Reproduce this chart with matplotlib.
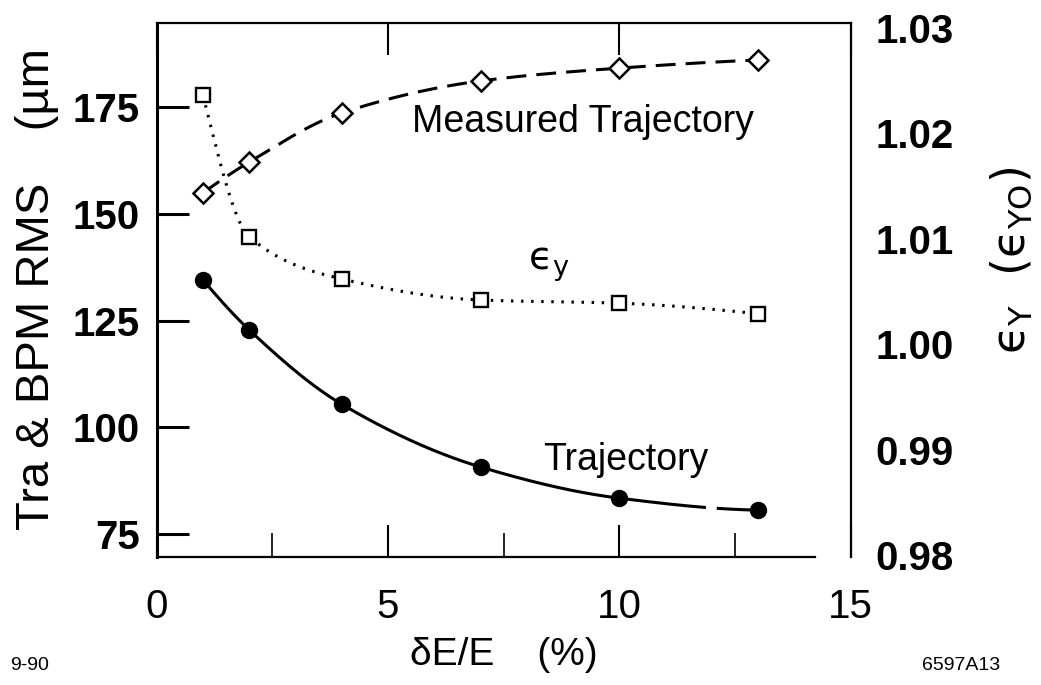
import numpy as np
import matplotlib
matplotlib.use("Agg")
import matplotlib.pyplot as plt
from matplotlib import font_manager
from matplotlib.ticker import FixedLocator, NullFormatter

# energy spread (%)
dE = [1, 2, 4, 7, 10, 13]
# BPM rms of the measured trajectory (um)
measured_rms = [154.9, 162.1, 173.6, 181.1, 184.1, 186.0]
# rms of the trajectory (um)
trajectory_rms = [134.5, 122.8, 105.4, 90.7, 83.4, 80.6]
# emittance growth eps_y / eps_y0
eps_ratio = [1.0236, 1.0102, 1.0062, 1.0042, 1.0039, 1.0029]

left_ticks = [75, 100, 125, 150, 175]
right_ticks = [0.98, 0.99, 1.00, 1.01, 1.02, 1.03]
right_labels = ["0.98", "0.99", "1.00", "1.01", "1.02", "1.03"]
x_ticks = [0, 5, 10, 15]
x_minor = [2.5, 7.5, 12.5]


def pchip(x, y, xs):
    """Monotone cubic through (x, y), evaluated at xs."""
    x = np.asarray(x, float)
    y = np.asarray(y, float)
    h = np.diff(x)
    delta = np.diff(y) / h
    n = len(x)
    d = np.zeros(n)
    for k in range(1, n - 1):
        if delta[k - 1] * delta[k] > 0:
            w1 = 2 * h[k] + h[k - 1]
            w2 = h[k] + 2 * h[k - 1]
            d[k] = (w1 + w2) / (w1 / delta[k - 1] + w2 / delta[k])

    def end(h0, h1, d0, d1):
        s = ((2 * h0 + h1) * d0 - h0 * d1) / (h0 + h1)
        if np.sign(s) != np.sign(d0):
            s = 0.0
        elif np.sign(d0) != np.sign(d1) and abs(s) > abs(3 * d0):
            s = 3 * d0
        return s

    d[0] = end(h[0], h[1], delta[0], delta[1])
    d[-1] = end(h[-1], h[-2], delta[-1], delta[-2])
    idx = np.clip(np.searchsorted(x, xs) - 1, 0, n - 2)
    t = (xs - x[idx]) / h[idx]
    h00 = 2 * t**3 - 3 * t**2 + 1
    h10 = t**3 - 2 * t**2 + t
    h01 = -2 * t**3 + 3 * t**2
    h11 = t**3 - t**2
    return (h00 * y[idx] + h10 * h[idx] * d[idx]
            + h01 * y[idx + 1] + h11 * h[idx] * d[idx + 1])


names = {f.name for f in font_manager.fontManager.ttflist}
SANS = "Liberation Sans"
NARROW = "Liberation Sans Narrow" if "Liberation Sans Narrow" in names else SANS
NARROW_SIZE = 33 if NARROW != SANS else 29

fig = plt.figure(figsize=(10.41, 6.85), dpi=100)
ax = fig.add_axes([0.1505, 0.1864, 0.6667, 0.7805])
ax2 = ax.twinx()

ax.set_xlim(0, 15)
ax.set_ylim(69.55, 194.74)
ax2.set_ylim(0.9798, 1.0305)

xs = np.linspace(dE[0], dE[-1], 600)

# measured trajectory: dashed curve with open diamonds
ax.plot(xs, pchip(dE, measured_rms, xs), color="black", lw=2.2,
        dashes=(6.5, 3.3), zorder=2)
ax.plot(dE, measured_rms, ls="none", marker="D", ms=10, mfc="white",
        mec="black", mew=1.8, zorder=4)

# trajectory: solid curve with filled circles (short break near x=12)
traj = pchip(dE, trajectory_rms, xs)
traj[(xs > 11.85) & (xs < 12.13)] = np.nan
ax.plot(xs, traj, color="black", lw=2.2, zorder=2)
ax.plot(dE, trajectory_rms, ls="none", marker="o", ms=11.5, mfc="black",
        mec="black", zorder=4)

# emittance ratio on the right axis: dotted curve with open squares
ax2.plot(xs, pchip(dE, eps_ratio, xs), color="black", lw=2.2,
         dashes=(0.8, 2.5), zorder=2)
ax2.plot(dE, eps_ratio, ls="none", marker="s", ms=9.5, mfc="white",
         mec="black", mew=1.7, zorder=4)

# axes frame
for a in (ax, ax2):
    a.set_facecolor("none")
    for s in a.spines.values():
        s.set_linewidth(1.6)
ax.spines["left"].set_linewidth(2.2)
ax.spines["bottom"].set_bounds(0, 14.23)
ax2.spines["bottom"].set_visible(False)
ax2.spines["left"].set_visible(False)
ax2.spines["top"].set_visible(False)
ax.spines["right"].set_visible(False)

# x ticks: inward, labelled at 0/5/10/15, minor ticks at the half-way marks
ax.xaxis.set_major_locator(FixedLocator(x_ticks))
ax.xaxis.set_minor_locator(FixedLocator(x_minor))
ax.xaxis.set_minor_formatter(NullFormatter())
ax.set_xticklabels([str(v) for v in x_ticks], fontfamily=NARROW,
                   fontsize=NARROW_SIZE)
ax.tick_params(axis="x", which="major", direction="in", length=23, width=1.5,
               top=True, pad=22)
ax.tick_params(axis="x", which="minor", direction="in", length=17, width=1.2,
               top=False)

# left axis
ax.yaxis.set_major_locator(FixedLocator(left_ticks))
ax.set_yticklabels([str(v) for v in left_ticks], fontfamily=SANS,
                   fontweight="bold", fontsize=29)
ax.tick_params(axis="y", direction="in", length=23, width=2.2, pad=12,
               right=False)

# right axis
ax2.yaxis.set_major_locator(FixedLocator(right_ticks))
ax2.set_yticklabels(right_labels, fontfamily=SANS, fontweight="bold",
                    fontsize=29)
ax2.tick_params(axis="y", length=0, pad=18)

# curve labels
ax.text(5.52, 169.1, "Measured Trajectory", fontfamily=SANS, fontsize=27,
        va="baseline", ha="left")
ax.text(8.35, 90.0, "Trajectory", fontfamily=SANS, fontsize=27,
        va="baseline", ha="left")
ax.text(8.02, 136.8, r"$\mathrm{ϵ}_{\mathrm{y}}$", fontsize=28,
        va="baseline", ha="left")

# axis titles
fig.text(0.0355, 0.578, "Tra & BPM RMS    (\u00b5m", rotation=90,
         fontfamily=SANS, fontsize=34, ha="center", va="center")
fig.text(0.972, 0.620,
         r"$\mathrm{ϵ}_{\mathrm{Y}}$  ($\mathrm{ϵ}_{\mathrm{YO}}$)",
         rotation=90, fontsize=33, ha="center", va="center")
fig.text(0.484, 0.044, "\u03b4E/E    (%)", fontfamily=NARROW,
         fontsize=NARROW_SIZE - 1, ha="center", va="center")

# figure tags
fig.text(10 / 1041, 1 - 665 / 685, "9-90", fontfamily=SANS,
         fontsize=14, ha="left", va="center")
fig.text(1000 / 1041, 1 - 665 / 685, "6597A13", fontfamily=SANS,
         fontsize=14, ha="right", va="center")

fig.savefig("out.png", dpi=100, facecolor="white")
